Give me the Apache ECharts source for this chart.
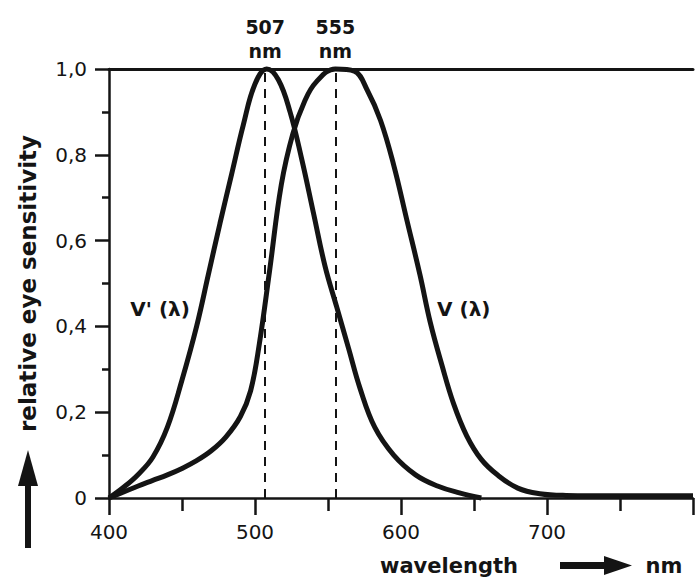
<!DOCTYPE html>
<html>
<head>
<meta charset="utf-8">
<script src="https://cdn.jsdelivr.net/npm/echarts@6/dist/echarts.min.js"></script>
<style>
html,body{margin:0;padding:0;background:#fff;}
#chart{width:696px;height:585px;}
</style>
</head>
<body>
<div id="chart"></div>
<script>
// Scotopic curve V'(λ)
var lambdaVprime = [400, 410, 420, 430, 440, 450, 460, 468, 476, 484, 492, 500, 508, 516, 524, 532, 540, 548, 556, 564, 572, 582, 595, 610, 625, 640, 655];
var valuesVprime = [0, 0.025, 0.055, 0.095, 0.165, 0.275, 0.40, 0.52, 0.64, 0.755, 0.87, 0.965, 1.0, 0.975, 0.90, 0.79, 0.665, 0.54, 0.445, 0.35, 0.255, 0.165, 0.10, 0.054, 0.028, 0.012, 0.0];
// Photopic curve V(λ)
var lambdaV = [400, 410, 420, 430, 440, 450, 460, 470, 480, 490, 497, 503, 510, 518, 526, 534, 542, 555, 568, 577, 586, 595, 604, 613, 620, 628, 636, 645, 655, 666, 680, 695, 713, 750, 800];
var valuesV = [0, 0.014, 0.028, 0.041, 0.054, 0.069, 0.087, 0.11, 0.142, 0.19, 0.25, 0.36, 0.53, 0.73, 0.85, 0.925, 0.97, 1.0, 0.995, 0.95, 0.88, 0.776, 0.648, 0.52, 0.41, 0.31, 0.22, 0.145, 0.09, 0.054, 0.023, 0.01, 0.006, 0.005, 0.005];
// Peak wavelengths (dashed lines)
var peakWavelengths = [507, 555];
// Curve labels and their anchor points (wavelength, sensitivity)
var curveLabels = ["V' (λ)", "V (λ)"];
var curveLabelAnchors = [[435, 0.44], [643, 0.44]];
// Axis texts
var yAxisTitle = 'relative eye sensitivity';
var xAxisTitle = 'wavelength';
var xUnit = 'nm';

function pairs(xs, ys){ return xs.map(function(x,i){ return [x, ys[i]]; }); }

var FONT = 'DejaVu Sans';
var INK = '#141414';

var chart = echarts.init(document.getElementById('chart'), null, {renderer:'svg'});
var option = {
  backgroundColor: '#ffffff',
  animation: false,
  grid: {left: 109, right: -92, top: 69, bottom: 87, containLabel: false},
  xAxis: [{
    type: 'value', min: 400, max: 800, interval: 100, position: 'bottom',
    axisLine: {show: true, onZero: false, lineStyle: {color: INK, width: 2.5}},
    axisTick: {show: true, length: 17, lineStyle: {color: INK, width: 2.5}},
    minorTick: {show: true, splitNumber: 2, length: 13, lineStyle: {color: INK, width: 2.5}},
    axisLabel: {fontFamily: FONT, fontSize: 20, color: INK, margin: 24,
      formatter: function(v){ return (v % 100 === 0 && v < 800) ? String(v) : ''; }},
    splitLine: {show: false}
  }, {
    type: 'value', min: 400, max: 800, position: 'top',
    axisLine: {show: true, onZero: false, lineStyle: {color: INK, width: 3}},
    axisTick: {show: false}, axisLabel: {show: false}, splitLine: {show: false}
  }],
  yAxis: {
    type: 'value', min: 0, max: 1, interval: 0.2,
    axisLine: {show: true, onZero: false, lineStyle: {color: INK, width: 2.5}},
    axisTick: {show: true, length: 14, lineStyle: {color: INK, width: 2.5}},
    minorTick: {show: true, splitNumber: 2, length: 7, lineStyle: {color: INK, width: 2.5}},
    axisLabel: {fontFamily: FONT, fontSize: 20, color: INK, margin: 22,
      formatter: function(v){ return v === 0 ? '0' : v.toFixed(1).replace('.', ','); }},
    splitLine: {show: false},
    name: yAxisTitle, nameLocation: 'middle', nameRotate: 90, nameGap: 70,
    nameTextStyle: {fontFamily: FONT, fontSize: 23, fontWeight: 'bold', color: INK}
  },
  series: [{
    name: "V'", type: 'line', data: pairs(lambdaVprime, valuesVprime),
    smooth: 0.4, showSymbol: false, clip: false,
    lineStyle: {color: INK, width: 5},
    markLine: {
      silent: true, symbol: 'none', animation: false,
      lineStyle: {color: INK, width: 2, type: [9, 7]},
      label: {show: true, position: 'end', distance: 6, fontFamily: FONT, fontSize: 19,
        fontWeight: 'bold', color: INK, lineHeight: 24, align: 'center',
        formatter: function(p){ return p.value + '\n' + xUnit; }},
      data: peakWavelengths.map(function(w){ return {xAxis: w}; })
    },
    markPoint: {
      symbol: 'rect', symbolSize: 1, itemStyle: {color: 'rgba(0,0,0,0)'}, silent: true,
      label: {show: true, position: 'inside', fontFamily: FONT, fontSize: 20, fontWeight: 'bold', color: INK,
        formatter: function(p){ return p.name; }},
      data: curveLabels.map(function(t, i){ return {name: t, coord: curveLabelAnchors[i]}; })
    }
  }, {
    name: 'V', type: 'line', data: pairs(lambdaV, valuesV),
    smooth: 0.4, showSymbol: false, clip: false,
    lineStyle: {color: INK, width: 5}
  }],
  graphic: [
    // upward arrow at the left
    {type: 'rect', shape: {x: 25, y: 484, width: 6, height: 64}, style: {fill: INK}},
    {type: 'polygon', shape: {points: [[18, 486], [28, 450], [38, 486]]}, style: {fill: INK}},
    // x-axis title, arrow and unit
    {type: 'text', x: 449, y: 566, style: {text: xAxisTitle, fontFamily: FONT, fontSize: 21, fontWeight: 'bold',
      fill: INK, align: 'center', verticalAlign: 'middle'}},
    {type: 'rect', shape: {x: 560, y: 562, width: 46, height: 7}, style: {fill: INK}},
    {type: 'polygon', shape: {points: [[604, 556], [632, 565.5], [604, 575]]}, style: {fill: INK}},
    {type: 'text', x: 664, y: 566, style: {text: xUnit, fontFamily: FONT, fontSize: 21, fontWeight: 'bold',
      fill: INK, align: 'center', verticalAlign: 'middle'}}
  ]
};
chart.setOption(option);
</script>
</body>
</html>
